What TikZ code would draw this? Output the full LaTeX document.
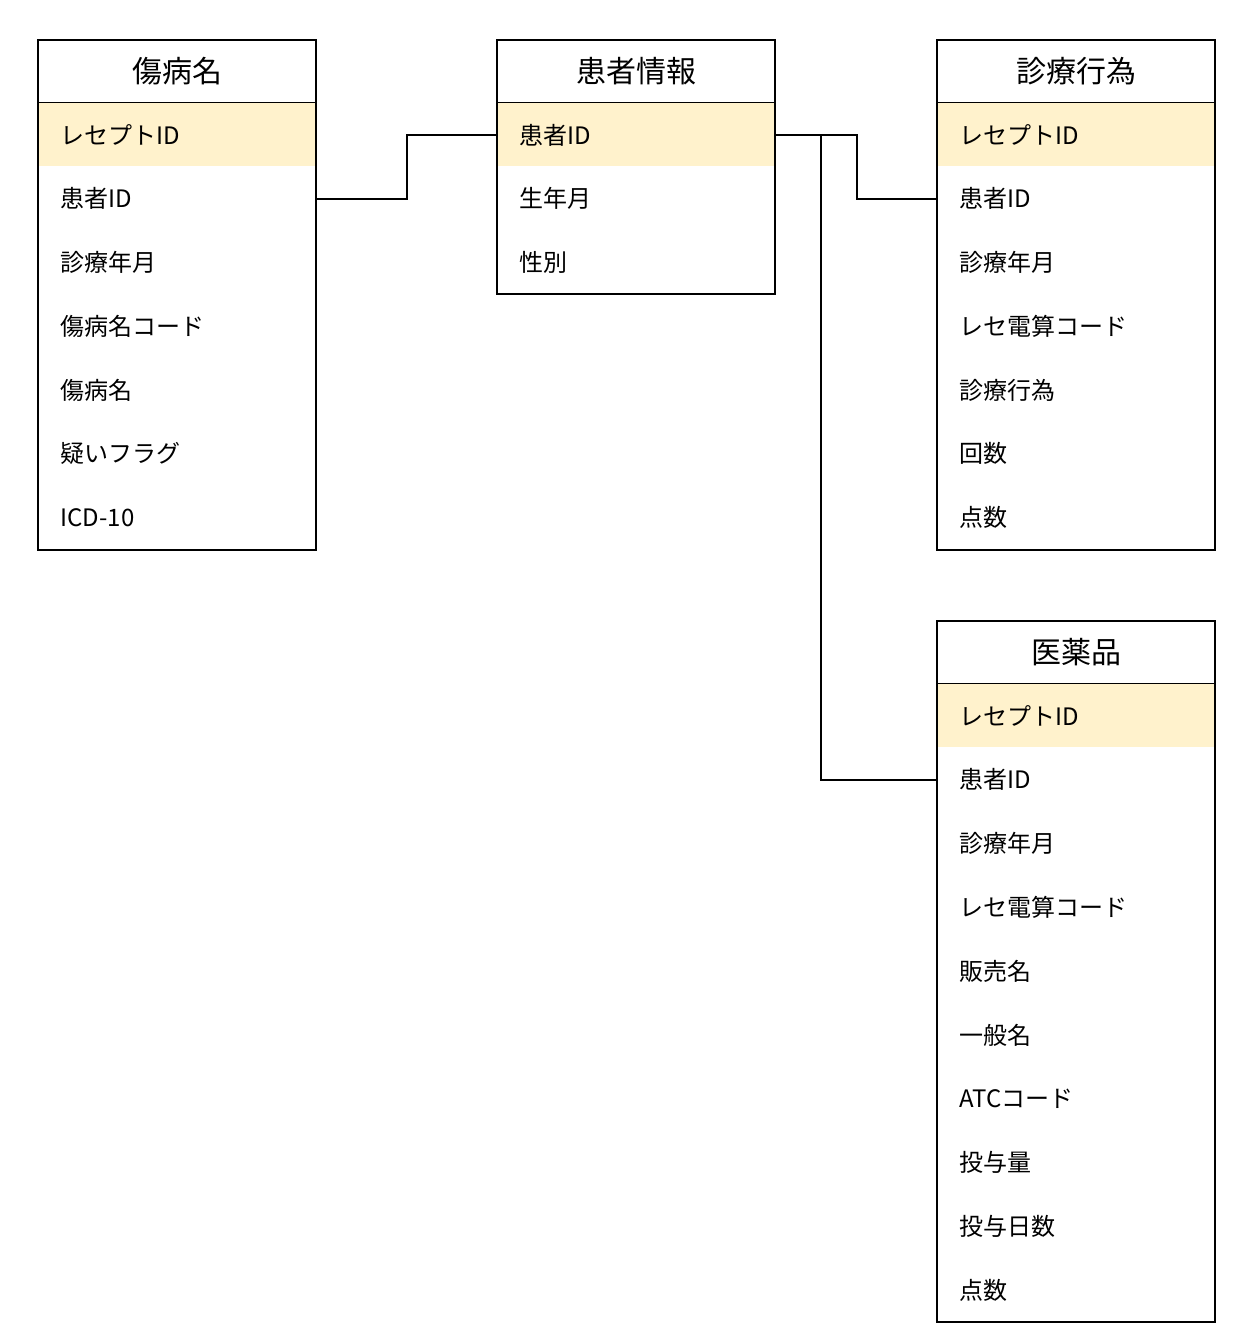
\documentclass[tikz,border=0pt]{standalone}
\usepackage{fontspec}
\newfontfamily\jp{Noto Sans CJK JP}
\usetikzlibrary{positioning}
\definecolor{keyfill}{HTML}{FFF2CC}
\tikzset{
  hdr/.style={draw, line width=0.5pt, minimum width=138.5pt, minimum height=31pt, anchor=north west, font=\jp\fontsize{15}{15}\selectfont, inner sep=0pt},
  row/.style={minimum width=138.5pt, minimum height=31.5pt, inner sep=0pt, inner xsep=11pt, text width=116.5pt, align=left, font=\jp\fontsize{12}{12}\selectfont, below=0pt of #1},
  key/.style={row=#1, fill=keyfill},
  box/.style={line width=1pt},
  link/.style={line width=1pt}
}
\begin{document}
\begin{tikzpicture}[x=0.5pt,y=-0.5pt]
  \useasboundingbox (0,0) rectangle (1244,1342);

  % 傷病名
  \node[hdr] (b0) at (38,40) {傷病名};
  \node[key=b0] (b1) {レセプトID};
  \node[row=b1] (b2) {患者ID};
  \node[row=b2] (b3) {診療年月};
  \node[row=b3] (b4) {傷病名コード};
  \node[row=b4] (b5) {傷病名};
  \node[row=b5] (b6) {疑いフラグ};
  \node[row=b6] (b7) {ICD-10};
  \draw[box] (b0.north west) rectangle (b7.south east);

  % 患者情報
  \node[hdr] (p0) at (497,40) {患者情報};
  \node[key=p0] (p1) {患者ID};
  \node[row=p1] (p2) {生年月};
  \node[row=p2] (p3) {性別};
  \draw[box] (p0.north west) rectangle (p3.south east);

  % 診療行為
  \node[hdr] (s0) at (937,40) {診療行為};
  \node[key=s0] (s1) {レセプトID};
  \node[row=s1] (s2) {患者ID};
  \node[row=s2] (s3) {診療年月};
  \node[row=s3] (s4) {レセ電算コード};
  \node[row=s4] (s5) {診療行為};
  \node[row=s5] (s6) {回数};
  \node[row=s6] (s7) {点数};
  \draw[box] (s0.north west) rectangle (s7.south east);

  % 医薬品
  \node[hdr] (m0) at (937,621) {医薬品};
  \node[key=m0] (m1) {レセプトID};
  \node[row=m1] (m2) {患者ID};
  \node[row=m2] (m3) {診療年月};
  \node[row=m3] (m4) {レセ電算コード};
  \node[row=m4] (m5) {販売名};
  \node[row=m5] (m6) {一般名};
  \node[row=m6] (m7) {ATCコード};
  \node[row=m7] (m8) {投与量};
  \node[row=m8] (m9) {投与日数};
  \node[row=m9] (m10) {点数};
  \draw[box] (m0.north west) rectangle (m10.south east);

  % Draw links
  \draw[link] (b2.east) -- ++(91,0) |- (p1.west);
  \draw[link] (p1.east) -- ++(82,0) |- (s2.west);
  \draw[link] (p1.east) -- ++(46,0) |- (m2.west);
\end{tikzpicture}
\end{document}
